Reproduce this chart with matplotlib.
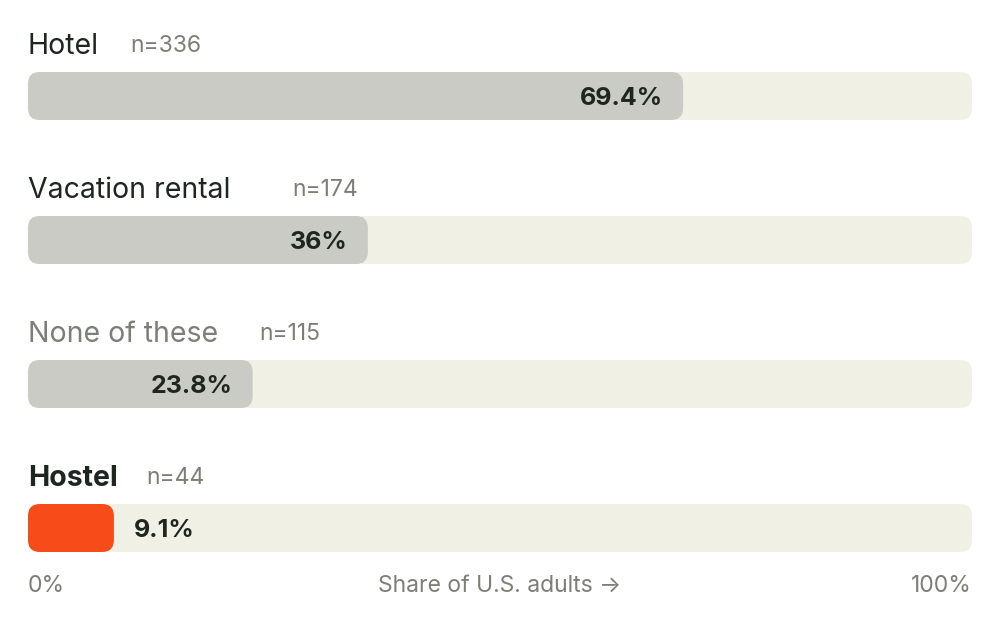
import matplotlib
matplotlib.use("Agg")
import matplotlib.pyplot as plt
from matplotlib.patches import FancyBboxPatch
from matplotlib.transforms import offset_copy

categories = ["Hotel", "Vacation rental", "None of these", "Hostel"]
values = [69.4, 36.0, 23.8, 9.1]
value_labels = ["69.4%", "36%", "23.8%", "9.1%"]
counts = ["n=336", "n=174", "n=115", "n=44"]
axis_labels = ["0%", "Share of U.S. adults \u2192", "100%"]

# style: gap (px) between category label and its n= label
count_gaps = [31, 62, 41, 28]

W, H = 1000, 624
fig = plt.figure(figsize=(W / 100, H / 100), dpi=100)
fig.patch.set_facecolor("white")
left, right = 28, 972
ax = fig.add_axes([left / W, 0, (right - left) / W, 1])
ax.set_xlim(0, 100)
ax.set_ylim(H, 0)
ax.axis("off")

FONT = ["Inter", "DejaVu Sans"]
DARK = "#1e2620"
GRAY = "#7c7f76"
TRACK = "#f1f0e5"
BAR = "#cacbc4"
HIGHLIGHT = "#f74b1a"

xunit = (right - left) / 100.0  # px per data unit
radius_px = 12
rs = radius_px / xunit
bar_h = 48
first_top = 72
step = 144

renderer = fig.canvas.get_renderer()

for i, (cat, v, vl, n) in enumerate(zip(categories, values, value_labels, counts)):
    top = first_top + i * step
    ax.add_patch(FancyBboxPatch((0, top), 100, bar_h,
                                boxstyle=f"round,pad=0,rounding_size={rs}",
                                mutation_aspect=xunit, fc=TRACK, ec="none"))
    highlight = cat == "Hostel"
    ax.add_patch(FancyBboxPatch((0, top), v, bar_h,
                                boxstyle=f"round,pad=0,rounding_size={rs}",
                                mutation_aspect=xunit,
                                fc=HIGHLIGHT if highlight else BAR, ec="none"))
    ymid = top + bar_h / 2
    if highlight:
        t = offset_copy(ax.transData, fig=fig, x=20, y=0, units="dots")
        ax.text(v, ymid, vl, transform=t, ha="left", va="center_baseline",
                fontsize=18, fontweight="bold", color=DARK, family=FONT)
    else:
        t = offset_copy(ax.transData, fig=fig, x=-20, y=0, units="dots")
        ax.text(v, ymid, vl, transform=t, ha="right", va="center_baseline",
                fontsize=18, fontweight="bold", color=DARK, family=FONT)
    ly = top - 29
    col = GRAY if cat == "None of these" else DARK
    lt = ax.text(0, ly, cat, ha="left", va="center_baseline", fontsize=20.5,
                 fontweight="bold" if highlight else "normal", color=col, family=FONT)
    bb = lt.get_window_extent(renderer=renderer)
    xend = ax.transData.inverted().transform((bb.x1, 0))[0]
    t2 = offset_copy(ax.transData, fig=fig, x=count_gaps[i], y=0, units="dots")
    ax.text(xend, ly, n, transform=t2, ha="left", va="center_baseline",
            fontsize=16.5, color=GRAY, family=FONT)

ay = 583
ax.text(0, ay, axis_labels[0], ha="left", va="center_baseline", fontsize=16.5, color=GRAY, family=FONT)
ax.text(50, ay, axis_labels[1], ha="center", va="center_baseline", fontsize=16.5, color=GRAY, family=FONT)
ax.text(100, ay, axis_labels[2], ha="right", va="center_baseline", fontsize=16.5, color=GRAY, family=FONT)

fig.savefig("out.png", dpi=100, facecolor="white")
